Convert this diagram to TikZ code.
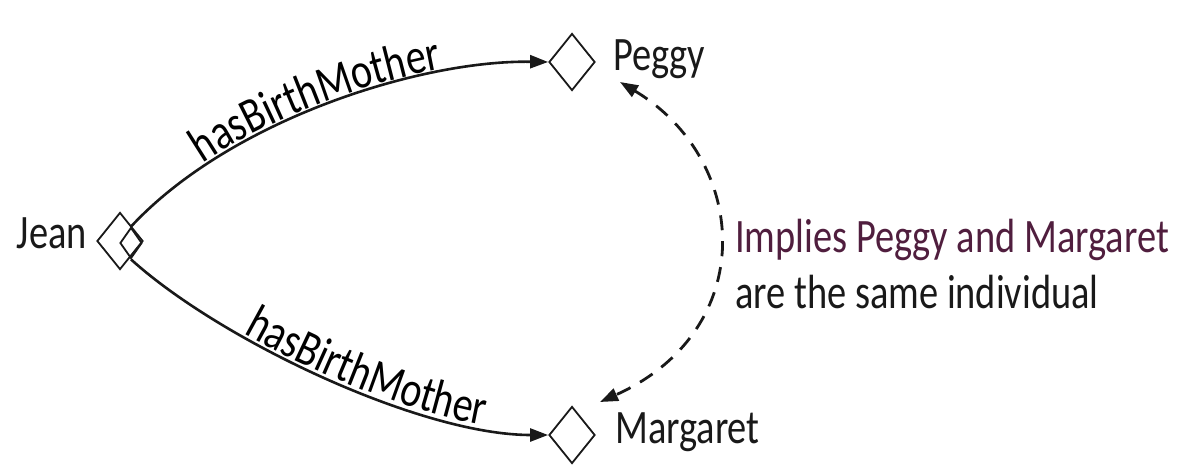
\documentclass[tikz,border=0pt]{standalone}
\usepackage{fontspec}
\setmainfont[FakeStretch=0.8]{Carlito}
\usetikzlibrary{shapes.geometric,arrows.meta,decorations.text}
\definecolor{notecol}{RGB}{80,30,62}
\definecolor{ink}{RGB}{25,25,25}
\newcommand{\lblfont}{\fontsize{50}{60}\selectfont}
\begin{document}
\begin{tikzpicture}[x=1pt,y=-1pt,
  indiv/.style={diamond,draw=ink,line width=1.8pt,inner sep=0pt,minimum width=46pt,minimum height=57pt},
  nametext/.style={font=\fontsize{48}{58}\selectfont,text=ink,inner sep=0pt},
  rel/.style={draw=ink,line width=2.6pt,-{Triangle[length=18pt,width=13pt]}},
  same/.style={draw=ink,line width=2.8pt,dash pattern=on 15pt off 11pt,{Triangle[length=18pt,width=13pt]}-{Triangle[length=18pt,width=13pt]}},
  reltext/.style={decorate,decoration={text along path,text={|\lblfont|hasBirthMother},text align={left indent=#1},raise=3pt}}
]
\useasboundingbox[fill=white] (0,0) rectangle (1199,466);
\node[indiv] (jean) at (120,241) {};
\node[indiv,minimum width=22pt,minimum height=31pt] (jeanin) at (131,243) {};
\node[indiv] (peggy) at (572,62) {};
\node[indiv] (margaret) at (572,435) {};
\node[nametext,anchor=base east] (jeant) at (87,248) {Jean};
\node[nametext,anchor=base west] (peggyt) at (613,70) {Peggy};
\node[nametext,anchor=base west] (margarett) at (615,443) {Margaret};
\node[nametext,anchor=base west,text=notecol] (note1) at (735,252) {Implies Peggy and Margaret};
\node[nametext,anchor=base west] (note2) at (735,308) {are the same individual};
\draw[rel] (jeanin.north) .. controls (230,120) and (420,60) .. (peggy.west);
\path[reltext=95pt] (jeanin.north) .. controls (230,120) and (420,60) .. (peggy.west);
\draw[rel] (jeanin.south) .. controls (220,340) and (420,435) .. (margaret.west);
\path[reltext=135pt] (jeanin.south) .. controls (220,340) and (420,435) .. (margaret.west);
\coordinate (pa) at (620,82);
\coordinate (ma) at (600,402);
\draw[same] (pa) .. controls (750,160) and (760,330) .. (ma);
\end{tikzpicture}
\end{document}
